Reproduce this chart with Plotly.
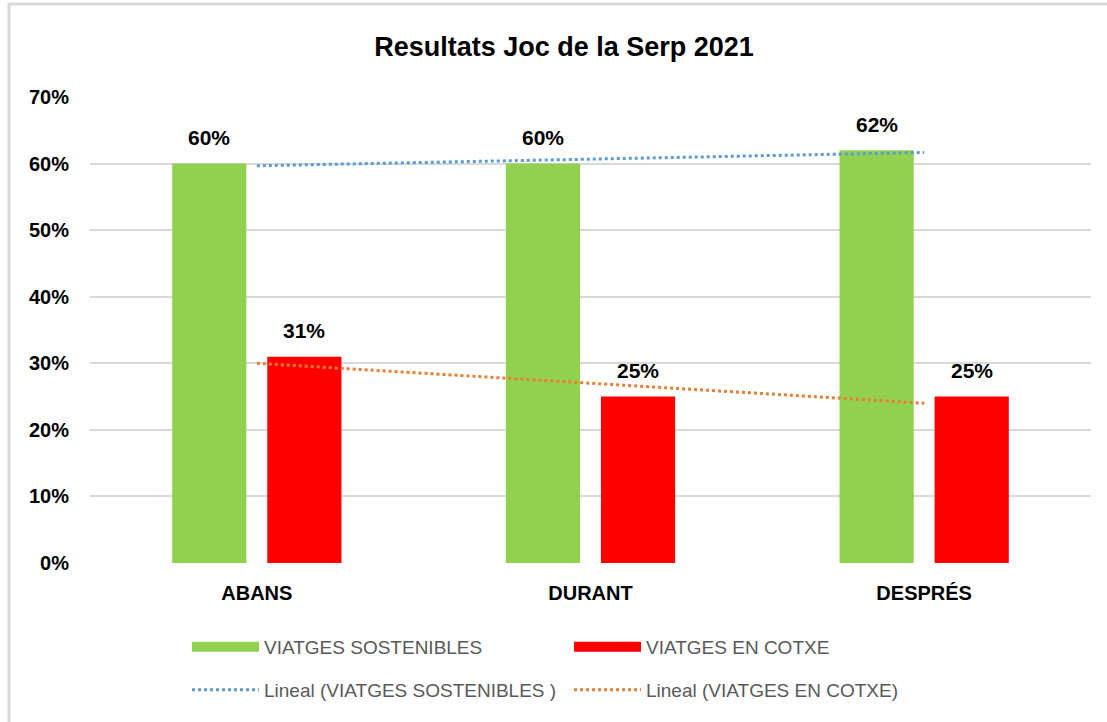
import numpy as np
import plotly.graph_objects as go

categories = ["ABANS", "DURANT", "DESPRÉS"]
sostenibles = [0.60, 0.60, 0.62]
cotxe = [0.31, 0.25, 0.25]
series_names = ["VIATGES SOSTENIBLES", "VIATGES EN COTXE"]
trend_names = ["Lineal (VIATGES SOSTENIBLES )", "Lineal (VIATGES EN COTXE)"]
y_ticks = [0, 0.1, 0.2, 0.3, 0.4, 0.5, 0.6, 0.7]

GREEN = "#92D050"
RED = "#FF0000"
BLUE = "#5B9BD5"
ORANGE = "#ED7D31"
FONT = "Liberation Sans, Arial, sans-serif"

def linear_trend(vals):
    xs = np.arange(1, len(vals) + 1)
    m, b = np.polyfit(xs, vals, 1)
    return list(m * xs + b)

fig = go.Figure()
for name, vals, color in [(series_names[0], sostenibles, GREEN), (series_names[1], cotxe, RED)]:
    fig.add_trace(go.Bar(
        x=categories, y=vals, name=name, marker=dict(color=color, line=dict(width=0)),
        showlegend=False,
    ))

for name, vals, color in [(trend_names[0], sostenibles, BLUE), (trend_names[1], cotxe, ORANGE)]:
    fig.add_trace(go.Scatter(
        x=categories, y=linear_trend(vals), mode="lines", name=name,
        line=dict(color=color, width=3, dash="dot"), legend="legend2",
    ))

# legend swatches for bar series
for name, color in [(series_names[0], GREEN), (series_names[1], RED)]:
    fig.add_trace(go.Scatter(
        x=[None], y=[None], mode="lines", name=name,
        line=dict(color=color, width=10), legend="legend",
    ))

# data labels above bars
annotations = []
for vals, xshift in [(sostenibles, -47.5), (cotxe, 47.5)]:
    for cat, v in zip(categories, vals):
        annotations.append(dict(
            x=cat, y=v, xref="x", yref="y", text=f"{v:.0%}", showarrow=False,
            xshift=xshift, yshift=26, yanchor="middle", xanchor="center",
            font=dict(family=FONT, size=21, color="#000000", weight="bold"),
        ))

fig.update_layout(
    width=1107, height=722,
    margin=dict(l=90, r=16, t=97, b=159),
    paper_bgcolor="white", plot_bgcolor="white",
    barmode="group", bargap=0.43, bargroupgap=0.22,
    title=dict(text="Resultats Joc de la Serp 2021", x=(564) / 1107, xanchor="center",
               y=1 - 47 / 722, yanchor="middle", yref="container",
               font=dict(family=FONT, size=27, color="#000000", weight="bold")),
    xaxis=dict(showgrid=False, zeroline=False, showline=False, ticks="",
               tickfont=dict(family=FONT, size=20, color="#000000", weight="bold"),
               ticklabelstandoff=16),
    yaxis=dict(range=[0, 0.7], tickvals=y_ticks, tickformat=".0%",
               showgrid=True, gridcolor="#D9D9D9", gridwidth=2,
               zeroline=False, showline=False, ticks="",
               tickfont=dict(family=FONT, size=20, color="#000000", weight="bold"),
               ticklabelstandoff=20),
    legend=dict(orientation="h", x=(187 - 90) / 1001, xanchor="left",
                y=(563 - 647) / 466, yanchor="middle",
                entrywidth=300, itemwidth=67,
                font=dict(family=FONT, size=19, color="#595959"),
                bgcolor="rgba(0,0,0,0)"),
    legend2=dict(orientation="h", x=(187 - 90) / 1001, xanchor="left",
                 y=(563 - 690) / 466, yanchor="middle",
                 entrywidth=300, itemwidth=67,
                 font=dict(family=FONT, size=19, color="#595959"),
                 bgcolor="rgba(0,0,0,0)"),
    annotations=annotations,
    shapes=[dict(type="rect", xref="paper", yref="paper",
                 x0=(9 - 90) / 1001, x1=1.2, y0=-0.6, y1=(563 - 4) / 466,
                 line=dict(color="#D9D9D9", width=3), fillcolor="rgba(0,0,0,0)", layer="below")],
)

fig.write_html("out.html", config={"displayModeBar": False},
               post_script="document.body.style.margin='0';")
